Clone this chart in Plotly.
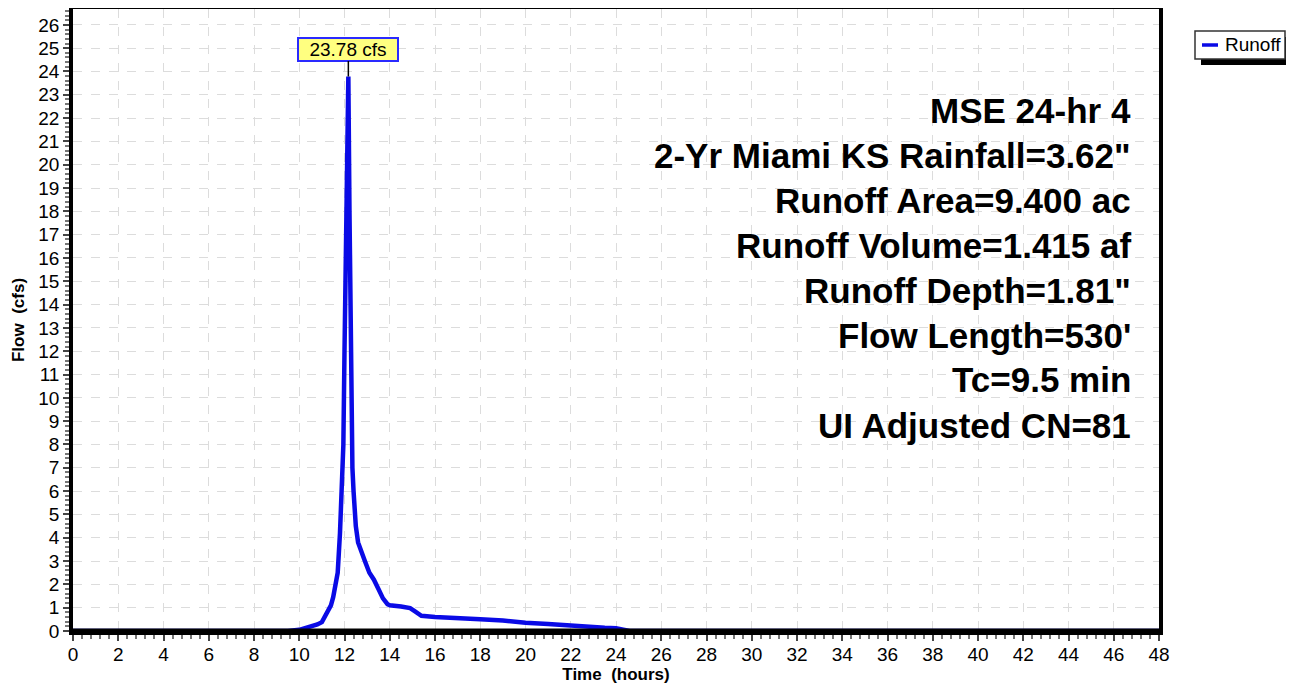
import plotly.graph_objects as go

time_hr = [0, 9.5, 10.0, 10.5, 10.8, 11.0, 11.2, 11.4, 11.5, 11.6, 11.7, 11.8, 11.85,
           11.9, 11.95, 12.0, 12.05, 12.1, 12.17, 12.22, 12.26, 12.3, 12.35, 12.4,
           12.5, 12.6, 12.7, 12.9, 13.1, 13.3, 13.5, 13.7, 13.9, 14.0, 14.5, 14.9,
           15.1, 15.4, 16.0, 17.0, 17.5, 18.0, 19.0, 19.5, 20.0, 21.0, 21.5, 22.0,
           23.0, 23.5, 24.0, 24.3, 24.6, 48.0]
flow_cfs = [0, 0, 0.05, 0.17, 0.28, 0.38, 0.7, 1.1, 1.45, 1.9, 2.5, 4.2, 5.5,
            7.0, 8.0, 12.0, 16.0, 21.0, 23.78, 18.0, 13.0, 8.5, 7.0, 6.0,
            4.5, 3.8, 3.5, 3.0, 2.5, 2.2, 1.8, 1.4, 1.15, 1.1, 1.05, 0.98,
            0.85, 0.65, 0.6, 0.57, 0.52, 0.5, 0.45, 0.4, 0.35, 0.3, 0.26, 0.25,
            0.18, 0.14, 0.12, 0.06, 0.0, 0.0]
series_name = "Runoff"
info_lines = ["MSE 24-hr 4", "2-Yr Miami KS Rainfall=3.62\"", "Runoff Area=9.400 ac",
              "Runoff Volume=1.415 af", "Runoff Depth=1.81\"", "Flow Length=530'",
              "Tc=9.5 min", "UI Adjusted CN=81"]
x_ticks = list(range(0, 49, 2))
y_ticks = list(range(0, 27, 1))

FONT = "Liberation Sans, Arial, sans-serif"
OFF = 8                      # default page body margin
SCR_W, SCR_H = 1294, 685
W, H = SCR_W - OFF, SCR_H - OFF
# plot area in screen pixels
PL, PR, PT, PB = 73, 1159, 9, 631
ML, MR, MT, MB = PL - OFF, W - (PR - OFF), PT - OFF, H - (PB - OFF)
PW, PH = W - ML - MR, H - MT - MB
LINE_BLUE = "#0a0ae6"


def px(xs):   # screen x -> paper
    return (xs - PL) / PW


def py(ys):   # screen y -> paper
    return (PB - ys) / PH


fig = go.Figure()
fig.add_trace(go.Scatter(x=time_hr, y=flow_cfs, mode="lines", name=series_name,
                         line=dict(color=LINE_BLUE, width=4.5), showlegend=False))

# thick base axis line drawn above the trace (hides the zero-flow segments)
fig.add_shape(type="line", xref="paper", yref="paper", x0=0, x1=1, y0=0, y1=0,
              line=dict(color="black", width=5), layer="above")

# peak label
pk = max(range(len(flow_cfs)), key=lambda i: flow_cfs[i])
fig.add_annotation(x=time_hr[pk], y=flow_cfs[pk], xref="x", yref="y",
                   text=f"{flow_cfs[pk]:.2f} cfs", showarrow=True, arrowhead=0,
                   arrowwidth=1.5, arrowcolor="black", ax=0, ay=-27,
                   bgcolor="#ffff80", bordercolor="#2a2aff", borderwidth=2, borderpad=1,
                   width=96, height=19, font=dict(family=FONT, size=19, color="black"))

# info text block
for i, t in enumerate(info_lines):
    yc = 110 + 45 * i
    fig.add_annotation(x=px(1133), y=py(yc), xref="paper", yref="paper",
                       text=t, showarrow=False, xanchor="right", yanchor="middle",
                       font=dict(family=FONT, size=35, color="black", weight="bold"))

# legend box (drawn manually, HydroCAD style with drop shadow)
lx0, ly0, lx1, ly1 = 1195, 31, 1285, 59
sh = 6
fig.add_shape(type="rect", xref="paper", yref="paper",
              x0=px(lx0 + sh), x1=px(lx1 + sh), y0=py(ly1 + sh), y1=py(ly0 + sh),
              fillcolor="black", line=dict(width=0), layer="above")
fig.add_shape(type="rect", xref="paper", yref="paper",
              x0=px(lx0), x1=px(lx1), y0=py(ly1), y1=py(ly0),
              fillcolor="white", line=dict(color="#333", width=1.5), layer="above")
fig.add_shape(type="line", xref="paper", yref="paper",
              x0=px(lx0 + 7), x1=px(lx0 + 23), y0=py(45), y1=py(45),
              line=dict(color=LINE_BLUE, width=3.5), layer="above")
fig.add_annotation(x=px(lx0 + 28), y=py(45), xref="paper", yref="paper",
                   text=series_name, showarrow=False, xanchor="left", yanchor="middle",
                   font=dict(family=FONT, size=19, color="black"))

axis_common = dict(showline=True, linecolor="black", linewidth=3.5, mirror=True,
                   ticks="outside", ticklen=6, tickwidth=1.5, tickcolor="#444",
                   showgrid=True, gridcolor="#dcdcdc", griddash="dash", gridwidth=1,
                   zeroline=False, automargin=False,
                   tickfont=dict(family=FONT, size=19, color="black"))

fig.update_xaxes(range=[0, 48], tickmode="array", tickvals=x_ticks,
                 ticktext=[str(v) for v in x_ticks], ticklabelstandoff=-3,
                 minor=dict(ticks="outside", dtick=0.4, ticklen=4, tickcolor="#777", showgrid=False),
                 title=dict(text="Time\u00a0 (hours)", font=dict(family=FONT, size=17, color="black", weight="bold"),
                            standoff=2),
                 **axis_common)
fig.update_yaxes(range=[0, 26.68], tickmode="array", tickvals=y_ticks,
                 ticktext=[str(v) for v in y_ticks],
                 minor=dict(ticks="outside", dtick=0.2, ticklen=4, tickcolor="#777", showgrid=False),
                 title=dict(text="Flow\u00a0 (cfs)", font=dict(family=FONT, size=17, color="black", weight="bold"),
                            standoff=10),
                 **axis_common)

fig.update_layout(width=W, height=H, margin=dict(l=ML, r=MR, t=MT, b=MB, autoexpand=False),
                  plot_bgcolor="white", paper_bgcolor="white", showlegend=False)

fig.write_html("out.html")
